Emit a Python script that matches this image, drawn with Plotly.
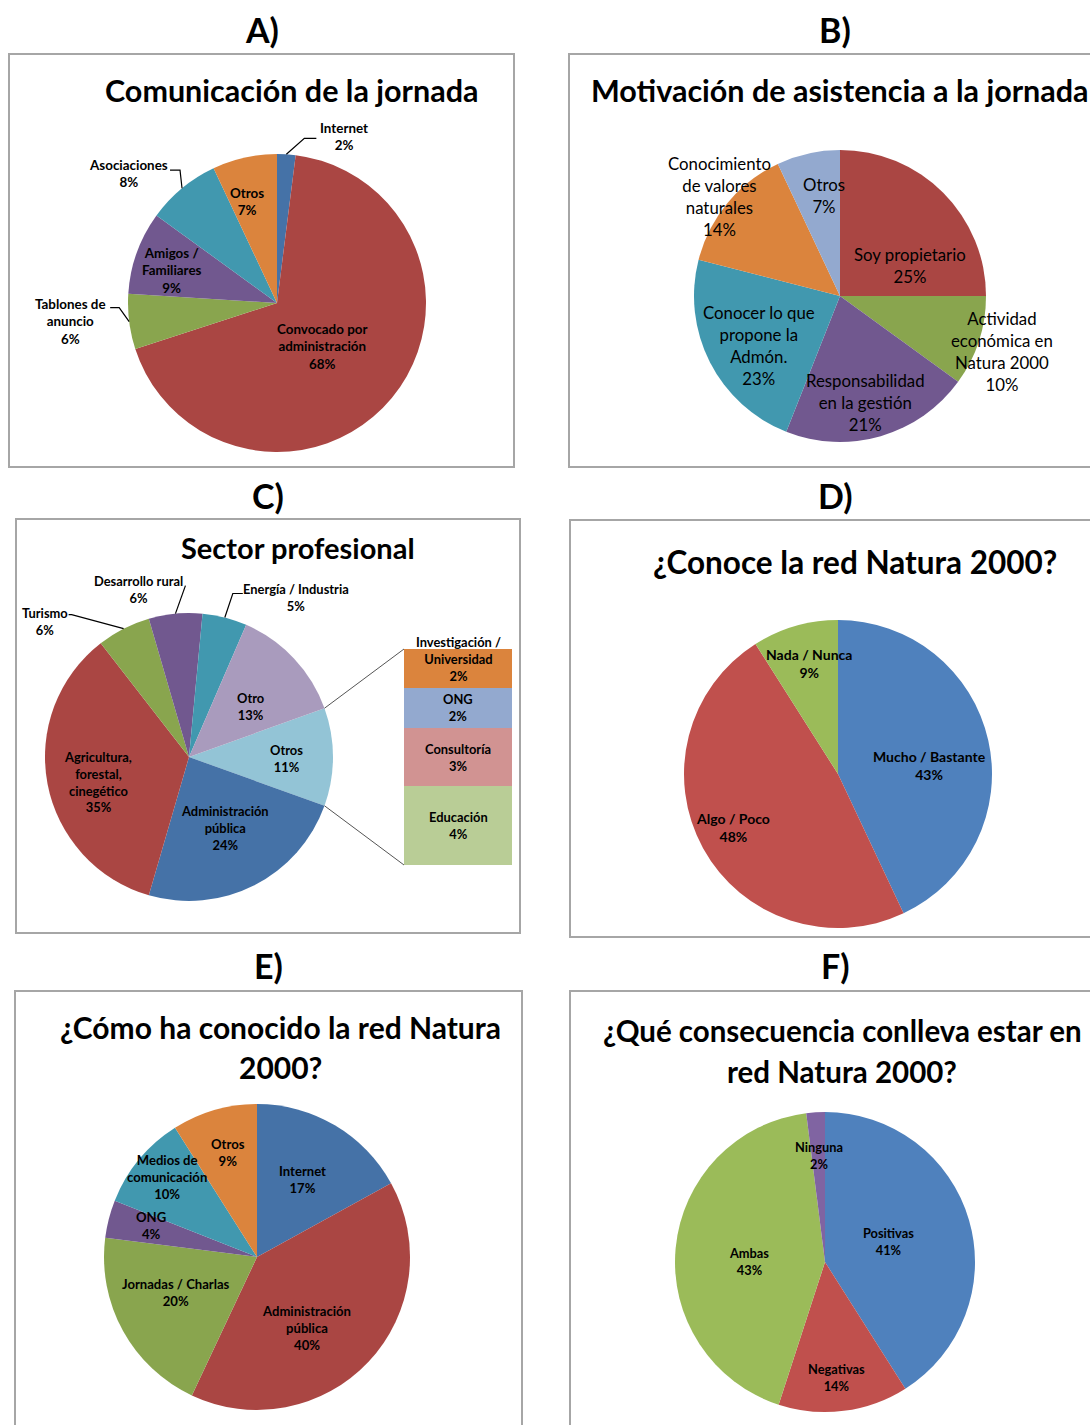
import math
import plotly.graph_objects as go

W, H = 1090, 1425
FONT = "Lato"

# ---------------- DATA ----------------
# A) Comunicación de la jornada
a_cats = ["Internet", "Convocado por\nadministración", "Tablones de\nanuncio",
          "Amigos /\nFamiliares", "Asociaciones", "Otros"]
a_vals = [2, 68, 6, 9, 8, 7]

# B) Motivación de asistencia a la jornada
b_cats = ["Soy propietario", "Actividad\neconómica en\nNatura 2000", "Responsabilidad\nen la gestión",
          "Conocer lo que\npropone la\nAdmón.", "Conocimiento\nde valores\nnaturales", "Otros"]
b_vals = [25, 10, 21, 23, 14, 7]

# C) Sector profesional (pie + bar of "Otros")
c_cats = ["Otros", "Administración\npública", "Agricultura,\nforestal,\ncinegético", "Turismo",
          "Desarrollo rural", "Energía / Industria", "Otro"]
c_vals = [11, 24, 35, 6, 6, 5, 13]
c_bar_cats = ["Educación", "Consultoría", "ONG", "Investigación /\nUniversidad"]
c_bar_vals = [4, 3, 2, 2]

# D) ¿Conoce la red Natura 2000?
d_cats = ["Mucho / Bastante", "Algo / Poco", "Nada / Nunca"]
d_vals = [43, 48, 9]

# E) ¿Cómo ha conocido la red Natura 2000?
e_cats = ["Internet", "Administración\npública", "Jornadas / Charlas", "ONG",
          "Medios de\ncomunicación", "Otros"]
e_vals = [17, 40, 20, 4, 10, 9]

# F) ¿Qué consecuencia conlleva estar en red Natura 2000?
f_cats = ["Positivas", "Negativas", "Ambas", "Ninguna"]
f_vals = [41, 14, 43, 2]

# ---------------- STYLE ----------------
XL_DARK = ["#4572A7", "#AA4643", "#89A54E", "#71588F", "#4198AF", "#DB843D"]
XL = ["#4F81BD", "#C0504D", "#9BBB59", "#8064A2"]
TITLE = 30
LETTER = 34

fig = go.Figure()
annotations = []
shapes = []


def P(x, y):
    return x / W, 1 - y / H


def mids(vals, rotation=0.0):
    tot = float(sum(vals))
    out, acc = [], rotation
    for v in vals:
        a = 360.0 * v / tot
        out.append(acc + a / 2)
        acc += a
    return out


def polar(cx, cy, r, ang, f):
    t = math.radians(ang)
    return cx + f * r * math.sin(t), cy - f * r * math.cos(t)


def add_pie(cx, cy, r, cats, vals, colors, rotation=0.0):
    x0, y1 = P(cx - r, cy - r)
    x1, y0 = P(cx + r, cy + r)
    fig.add_trace(go.Pie(
        labels=[c.replace("\n", " ") for c in cats], values=vals, sort=False,
        direction="clockwise", rotation=rotation,
        marker=dict(colors=colors, line=dict(width=0)),
        textinfo="none", hoverinfo="label+percent",
        domain=dict(x=[x0, x1], y=[y0, y1]), showlegend=False))


def add_labels(cx, cy, r, cats, vals, place, size, rotation=0.0, bold=True):
    ms = mids(vals, rotation)
    for cat, v, m, pl in zip(cats, vals, ms, place):
        txt = (cat + "\n" + f"{v}%").replace("\n", "<br>")
        if bold:
            txt = "<b>" + txt + "</b>"
        if pl[0] == "out":
            # outside label with elbow leader line from the slice edge
            _, lx, ly, ex, ey, run = pl
            tx, ty = polar(cx, cy, r, m, 1.0)
            px, py = P(tx + lx, ty + ly)
            annotations.append(dict(x=px, y=py, xref="paper", yref="paper", text=txt,
                                    showarrow=False, xanchor="center", yanchor="middle",
                                    font=dict(family=FONT, size=size, color="#000")))
            pts = [P(tx, ty), P(tx + ex, ty + ey), P(tx + ex + run, ty + ey)]
            path = "M {} {} L {} {} L {} {}".format(*[c for p in pts for c in p])
            shapes.append(dict(type="path", xref="paper", yref="paper", path=path,
                               line=dict(color="#000", width=1.2)))
        else:
            f, dx, dy = pl
            tx, ty = polar(cx, cy, r, m, f)
            px, py = P(tx, ty)
            annotations.append(dict(x=px, y=py, xref="paper", yref="paper", text=txt,
                                    showarrow=False, xshift=dx, yshift=-dy,
                                    xanchor="center", yanchor="middle",
                                    font=dict(family=FONT, size=size, color="#000")))


def box(x0, y0, x1, y1):
    a, b = P(x0, y0)
    c, d = P(x1, y1)
    shapes.append(dict(type="rect", xref="paper", yref="paper", x0=a, x1=c, y0=d, y1=b,
                       line=dict(color="#A6A6A6", width=2), layer="below"))


def text(x, y, s, size, bold=True):
    px, py = P(x, y)
    annotations.append(dict(x=px, y=py, xref="paper", yref="paper",
                            text=("<b>" + s + "</b>") if bold else s, showarrow=False,
                            xanchor="center", yanchor="middle",
                            font=dict(family=FONT, size=size, color="#000")))


# ---------------- PANEL A ----------------
box(9, 54, 514, 467)
text(262, 30, "A)", LETTER)
text(291, 90, "Comunicación de la jornada", TITLE + 0.5)
A = (277, 303, 149)
add_pie(*A, a_cats, a_vals, XL_DARK)
add_labels(*A, a_cats, a_vals,
           [("out", 58, -18, 18, -16, 12), (0.45, -7, 1), ("out", -59, 0, -10, -14, -9),
            (0.74, -1, 5), ("out", -54, -15, -2, -18, -10), (0.71, -7, 2)], 13.4)

# ---------------- PANEL B ----------------
box(569, 54, 1096, 467)
text(835, 30, "B)", LETTER)
text(840, 90, "Motivación de asistencia a la jornada", TITLE + 0.5)
B = (840, 296, 146)
add_pie(*B, b_cats, b_vals,
        ["#AA4643", "#89A54E", "#71588F", "#4198AF", "#DB843D", "#93A9CF"])
add_labels(*B, b_cats, b_vals,
           [(0.55, 13, 26), (1.12, 6, 5), (0.76, -5, 0),
            (0.65, 4, 6), (1.07, 0, 0), (0.70, 6, -1)], 16.8, bold=False)

# ---------------- PANEL C ----------------
box(16, 519, 520, 933)
text(268, 496, "C)", LETTER)
text(298, 547, "Sector profesional", 29)
C = (189, 757, 144)
c_rot = 90 - 360.0 * c_vals[0] / sum(c_vals) / 2
add_pie(*C, c_cats, c_vals,
        ["#93C4D6", "#4572A7", "#AA4643", "#89A54E", "#71588F", "#4198AF", "#A99BBD"],
        rotation=c_rot)
add_labels(*C, c_cats, c_vals,
           [(0.68, 0, 1), (0.55, 0, 0), (0.65, 1, 7), ("out", -79, -7, -52, -14, -3),
            ("out", -37, -24, 10, -28, 0), ("out", 71, -20, 8, -24, 10), (0.55, 4, 4)],
           12.9, rotation=c_rot)

# bar of pie
bx0, bx1, by0, by1 = 404, 512, 649, 865
bar_colors = ["#B9CD96", "#D19392", "#93A9CF", "#DB843D"]
for cat, v, col in zip(c_bar_cats, c_bar_vals, bar_colors):
    fig.add_trace(go.Bar(x=[0], y=[v], width=1, marker=dict(color=col, line=dict(width=0)),
                         name=cat.replace("\n", " "), showlegend=False,
                         xaxis="x", yaxis="y", hoverinfo="name+y"))
tot_bar = sum(c_bar_vals)
acc = 0
for i, (cat, v) in enumerate(zip(c_bar_cats, c_bar_vals)):
    mid = acc + v / 2
    acc += v
    annotations.append(dict(x=0, y=mid, xref="x", yref="y",
                            text="<b>" + (cat + "\n" + f"{v}%").replace("\n", "<br>") + "</b>",
                            showarrow=False, xanchor="center", yanchor="middle",
                            yshift=(10 if i == len(c_bar_cats) - 1 else 0),
                            font=dict(family=FONT, size=12.9, color="#000")))
# connector lines from "Otros" slice edges to the bar corners
o_start = c_rot
o_end = c_rot + 360.0 * c_vals[0] / sum(c_vals)
for ang, cy_ in ((o_start, by0), (o_end, by1)):
    sx, sy = polar(C[0], C[1], C[2], ang, 1.0)
    a, b = P(sx, sy)
    c, d = P(bx0, cy_)
    shapes.append(dict(type="line", xref="paper", yref="paper", x0=a, y0=b, x1=c, y1=d,
                       line=dict(color="#555555", width=1)))

# ---------------- PANEL D ----------------
box(570, 520, 1096, 937)
text(835, 496, "D)", LETTER)
text(855, 562, "¿Conoce la red Natura 2000?", 31.5)
D = (838, 774, 154)
add_pie(*D, d_cats, d_vals, XL[:3])
add_labels(*D, d_cats, d_vals, [(0.6, 1, 12), (0.76, -2, -3), (0.74, 3, -1)], 14)

# ---------------- PANEL E ----------------
box(15, 991, 522, 1440)
text(268, 966, "E)", LETTER)
text(280, 1027, "¿Cómo ha conocido la red Natura", TITLE)
text(280, 1067, "2000?", TITLE)
E = (257, 1257, 153)
add_pie(*E, e_cats, e_vals, XL_DARK)
add_labels(*E, e_cats, e_vals,
           [(0.59, 0, 0), (0.56, -13, 12), (0.58, -3, -7),
            (0.72, 1, -4), (0.78, 2, -4), (0.71, 1, 0)], 13.1)

# ---------------- PANEL F ----------------
box(570, 991, 1096, 1440)
text(835, 966, "F)", LETTER)
text(842, 1030, "¿Qué consecuencia conlleva estar en", 29.5)
text(842, 1071, "red Natura 2000?", 29.5)
Fp = (825, 1262, 150)
add_pie(*Fp, f_cats, f_vals, XL)
add_labels(*Fp, f_cats, f_vals,
           [(0.45, -1, -2), (0.77, -3, 1), (0.51, 0, 7), (0.71, 1, 0)], 12.8)

# ---------------- LAYOUT ----------------
bxa, bya = P(bx0, by1)
bxb, byb = P(bx1, by0)
fig.update_layout(
    width=W, height=H, autosize=False,
    margin=dict(l=0, r=0, t=0, b=0, pad=0),
    paper_bgcolor="white", plot_bgcolor="rgba(0,0,0,0)",
    barmode="stack", bargap=0,
    xaxis=dict(domain=[bxa, bxb], range=[-0.5, 0.5], visible=False, fixedrange=True),
    yaxis=dict(domain=[bya, byb], range=[0, tot_bar], visible=False, fixedrange=True),
    annotations=annotations, shapes=shapes,
    font=dict(family=FONT),
)

fig.write_html("out.html", config={"displayModeBar": False},
               post_script="document.body.style.margin='0';")
